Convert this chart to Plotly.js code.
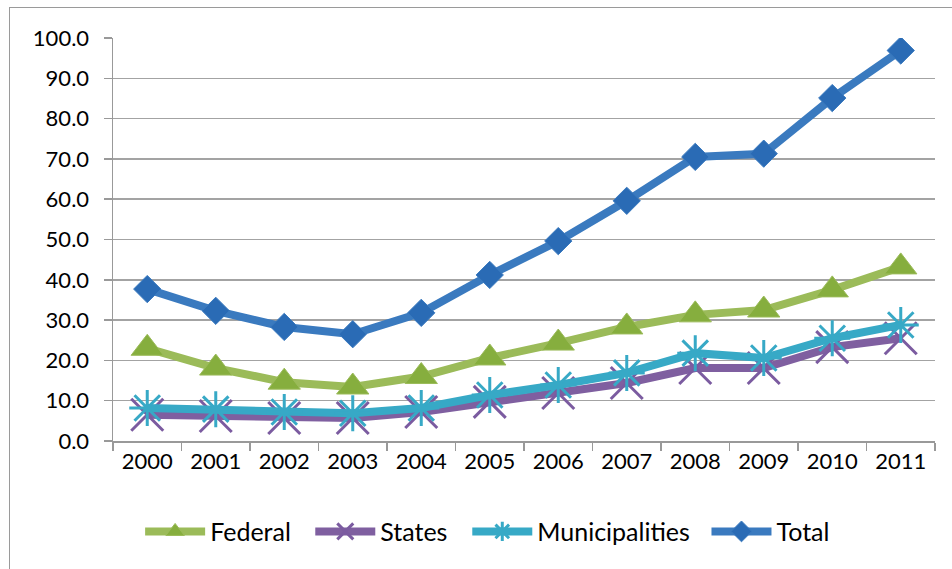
<!DOCTYPE html>
<html><head><meta charset="utf-8">
<script src="https://cdn.plot.ly/plotly-3.0.1.min.js"></script>
<style>
html,body{margin:0;padding:0;background:#fff;}
#wrap{position:relative;width:952px;height:569px;overflow:hidden;}
#chart{position:absolute;left:0;top:0;width:952px;height:569px;}
#frame{position:absolute;left:9px;top:7px;width:1000px;height:700px;border:1.5px solid #9a9a9a;pointer-events:none;}
</style></head>
<body><div id="wrap"><div id="chart"></div><div id="frame"></div></div>
<script>
const years = ["2000","2001","2002","2003","2004","2005","2006","2007","2008","2009","2010","2011"];
const federal = [23.0,18.1,14.6,13.4,16.0,20.6,24.3,28.3,31.3,32.5,37.5,43.2];
const states = [6.5,6.2,5.7,5.7,7.2,9.7,11.9,14.4,18.1,18.1,23.3,25.5];
const municipalities = [8.2,7.9,7.2,6.9,8.2,11.4,13.9,16.9,21.8,20.6,25.5,28.8];
const total = [37.7,32.3,28.3,26.5,31.8,41.2,49.6,59.6,70.5,71.3,85.1,96.9];
const yTicks = [0,10,20,30,40,50,60,70,80,90,100];

const traces = [
  {name:"Federal", legend:"legend", x:years, y:federal, type:"scatter", mode:"lines+markers",
   line:{color:"#9BBB59", width:8},
   marker:{symbol:"triangle-up", size:28, color:"#86AE3E", line:{color:"#9BBB59", width:1}}},
  {name:"States", legend:"legend2", x:years, y:states, type:"scatter", mode:"lines+markers",
   line:{color:"#7F5FA0", width:8},
   marker:{symbol:"x-thin-open", size:32, color:"#7B5BA0", line:{color:"#7B5BA0", width:3}}},
  {name:"Municipalities", legend:"legend3", x:years, y:municipalities, type:"scatter", mode:"lines+markers",
   line:{color:"#37A9C6", width:8},
   marker:{symbol:"asterisk-open", size:30, color:"#37A9C6", line:{color:"#37A9C6", width:3}}},
  {name:"Total", legend:"legend4", x:years, y:total, type:"scatter", mode:"lines+markers",
   line:{color:"#3A7ABF", width:8},
   marker:{symbol:"diamond", size:21, color:"#2A6BB5", line:{color:"#3A7ABF", width:1}}}
];

function leg(x){
  return {orientation:"h", x:x, xanchor:"left", y:-0.225, yanchor:"middle", itemwidth:60,
          font:{size:25, family:"Lato, sans-serif", color:"#000"}, bgcolor:"rgba(0,0,0,0)"};
}

const layout = {
  width:952, height:569,
  margin:{l:113, r:17, t:38, b:128},
  paper_bgcolor:"#ffffff", plot_bgcolor:"#ffffff",
  font:{family:"Lato, 'Open Sans', sans-serif", color:"#000", size:22},
  showlegend:true,
  legend:leg(0.033), legend2:leg(0.24), legend3:leg(0.431), legend4:leg(0.722),
  xaxis:{type:"category", tickson:"boundaries", ticks:"outside", ticklen:8, tickcolor:"#999",
         tickwidth:1.5, showline:true, linecolor:"#999", linewidth:1.5, showgrid:false,
         tickfont:{size:22}, range:[-0.5,11.5], fixedrange:true},
  yaxis:{range:[0,100], tickvals:yTicks, ticktext:yTicks.map(v=>v.toFixed(1)),
         ticks:"outside", ticklen:8, tickcolor:"#999", tickwidth:1.5,
         showline:true, linecolor:"#999", linewidth:1.5,
         showgrid:true, gridcolor:"#a3a3a3", gridwidth:1.5, zeroline:false,
         tickfont:{size:22}, ticklabelstandoff:10, fixedrange:true}
};
Plotly.newPlot("chart", traces, layout, {displayModeBar:false, staticPlot:true});
</script></body></html>
